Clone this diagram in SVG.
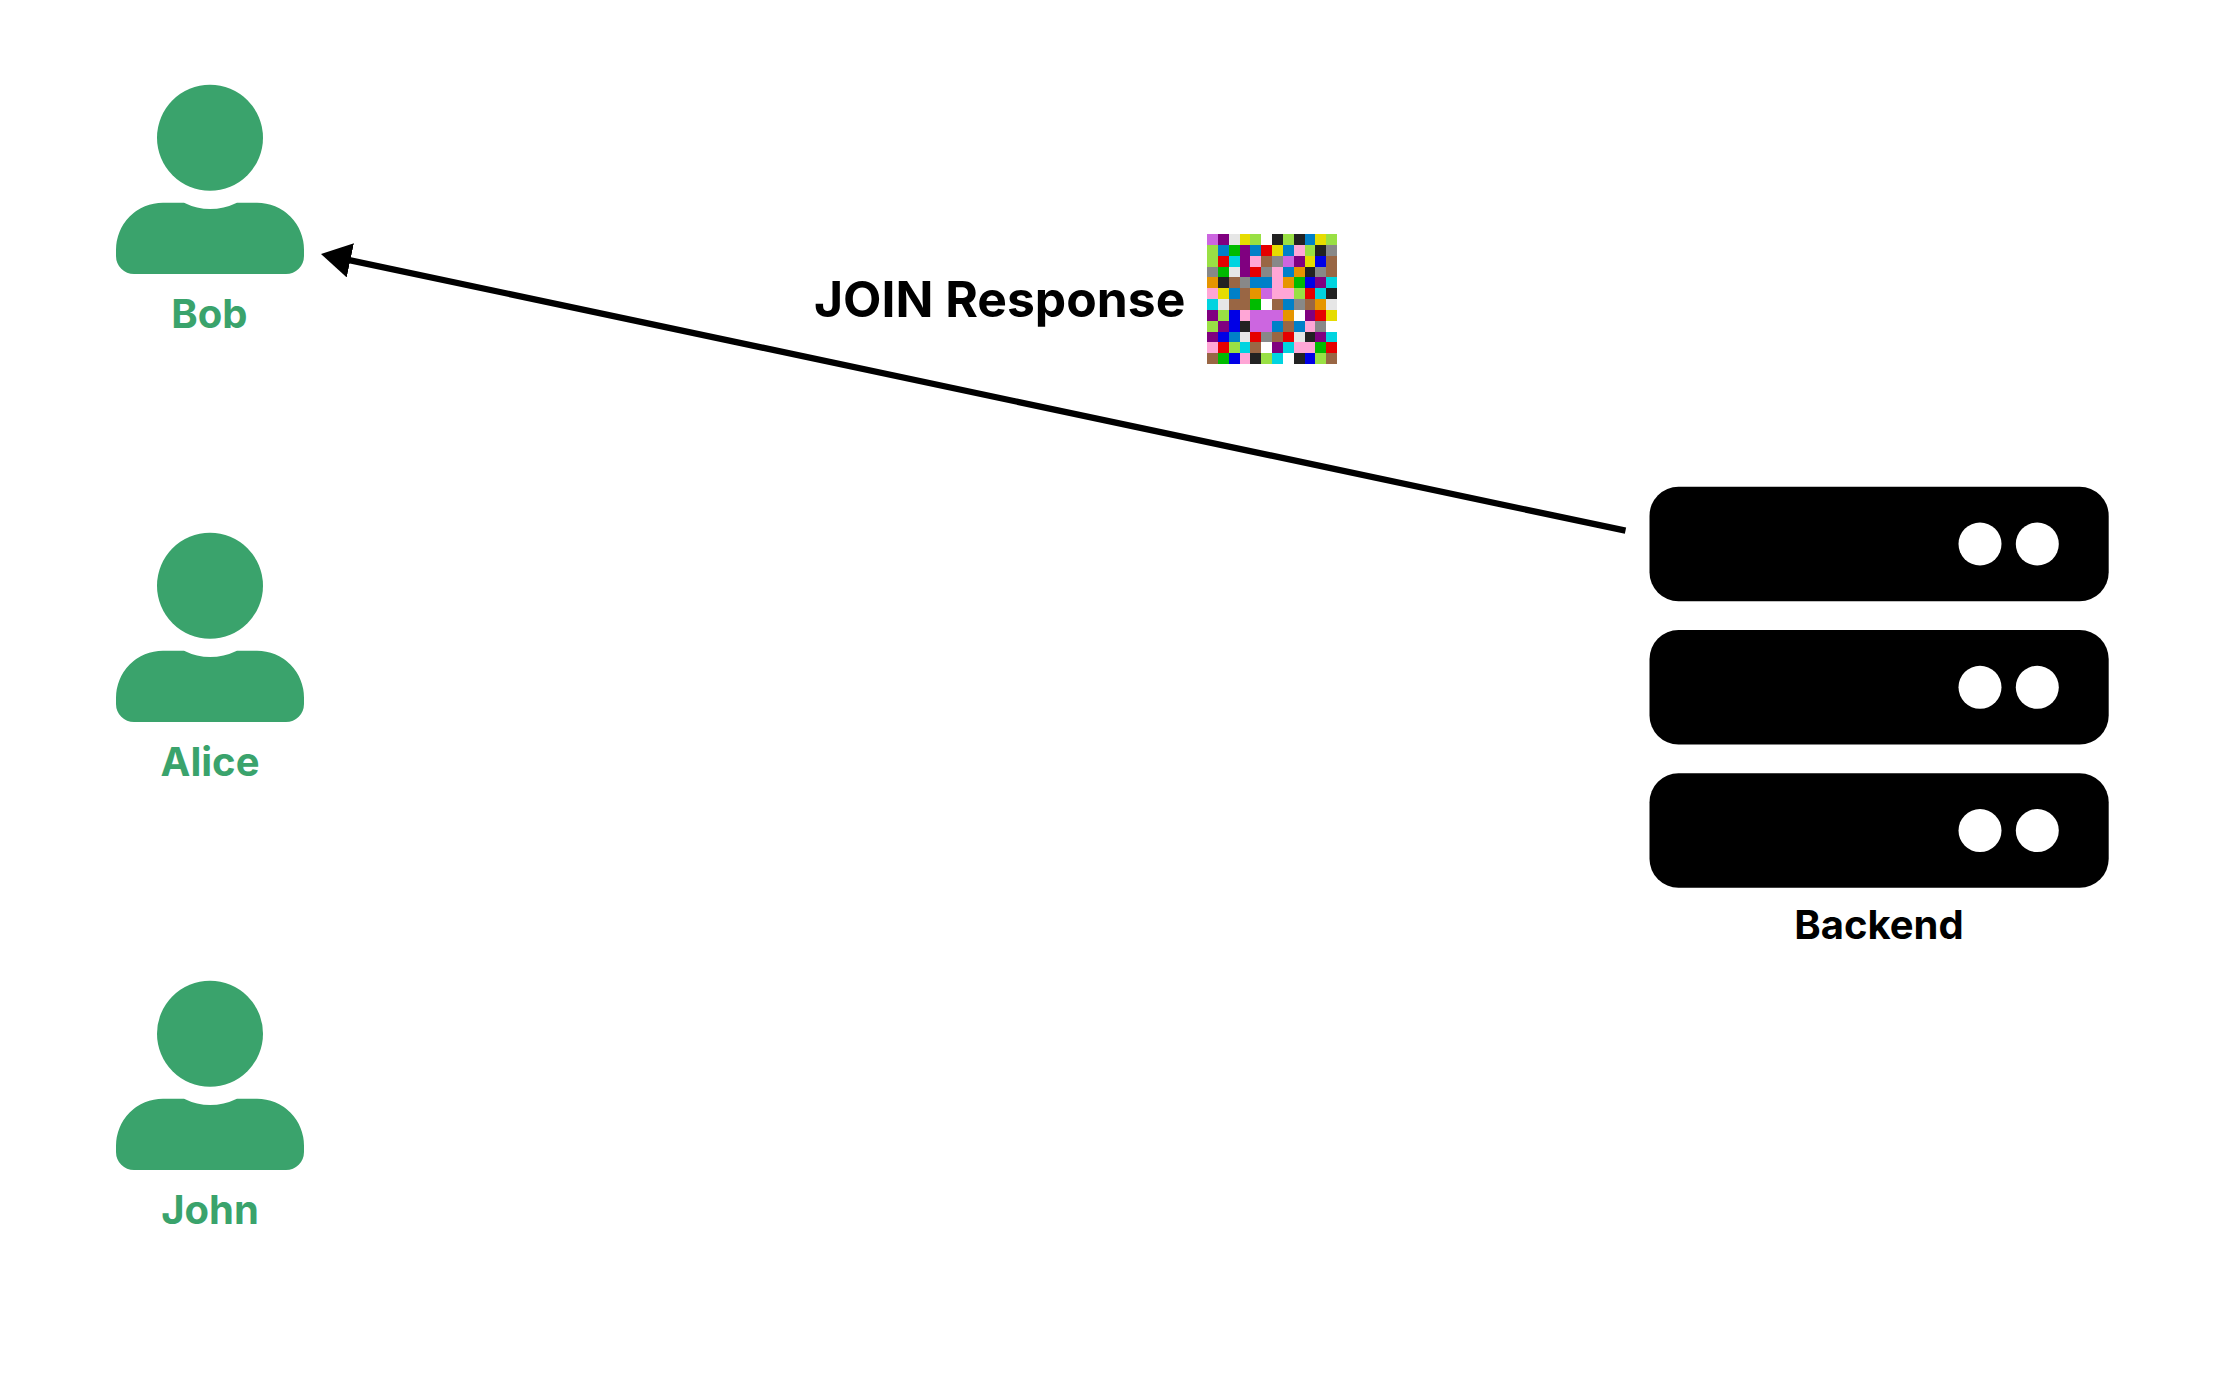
<svg xmlns="http://www.w3.org/2000/svg" width="2237" height="1373" viewBox="0 0 2237 1373">
<style>
text{font-family:Inter,"Liberation Sans",sans-serif;font-weight:700}
.u{fill:#3aa36c;font-size:40px;text-anchor:middle}
.b{fill:#000}
.w{fill:#fff}
.P{fill:#cc66e0}.V{fill:#800080}.L{fill:#e6e6e6}.Y{fill:#e6dc00}.G{fill:#99e044}.W{fill:#fff}.K{fill:#222}.B{fill:#0080c8}.R{fill:#e60000}.g{fill:#00bb00}.A{fill:#888}.N{fill:#0000e6}.C{fill:#00d4e0}.Q{fill:#ffa6d6}.T{fill:#996644}.O{fill:#e69500}
</style>
<defs>
<g id="person"><circle cx="210" cy="137.7" r="53"/><path d="M116 256V250A47 47 0 0 1 163 202.7H184Q210 215.5 237 202.7H257A47 47 0 0 1 304 250V256A18 18 0 0 1 286 274H134A18 18 0 0 1 116 256Z"/></g>
<g id="rack"><rect x="1649.5" y="486.7" width="459.2" height="114.5" rx="29" class="b"/><circle cx="1980" cy="544" r="21.5" class="w"/><circle cx="2037.3" cy="544" r="21.5" class="w"/></g>
<marker id="arrow" markerUnits="userSpaceOnUse" markerWidth="40" markerHeight="40" refX="12" refY="17.5" orient="auto"><path d="M0 0L30 17.5L0 35Z"/></marker>
</defs>
<g id="connectors"><line x1="1625.5" y1="530.7" x2="338.6" y2="257.8" stroke="#000" stroke-width="6.3" marker-end="url(#arrow)"/></g>
<g id="bob" fill="#3aa36c"><use href="#person"/><text class="u" x="209.4" y="328">Bob</text></g>
<g id="alice" fill="#3aa36c"><use href="#person" y="448"/><text class="u" x="210" y="776">Alice</text></g>
<g id="john" fill="#3aa36c"><use href="#person" y="896"/><text class="u" x="210" y="1224">John</text></g>
<g id="backend"><use href="#rack"/><use href="#rack" y="143.3"/><use href="#rack" y="286.6"/><text x="1879" y="939" font-size="40" text-anchor="middle">Backend</text></g>
<text id="label" x="814" y="317" font-size="49.8">JOIN Response</text>
<g id="token" transform="translate(1207 234) scale(10.84)" shape-rendering="crispEdges">
<rect x="0" y="0" width="1" height="1" class="P"/><rect x="1" y="0" width="1" height="1" class="V"/><rect x="2" y="0" width="1" height="1" class="L"/><rect x="3" y="0" width="1" height="1" class="Y"/><rect x="4" y="0" width="1" height="1" class="G"/><rect x="5" y="0" width="1" height="1" class="W"/><rect x="6" y="0" width="1" height="1" class="K"/><rect x="7" y="0" width="1" height="1" class="G"/><rect x="8" y="0" width="1" height="1" class="K"/><rect x="9" y="0" width="1" height="1" class="B"/><rect x="10" y="0" width="1" height="1" class="Y"/><rect x="11" y="0" width="1" height="1" class="G"/>
<rect x="0" y="1" width="1" height="1" class="G"/><rect x="1" y="1" width="1" height="1" class="B"/><rect x="2" y="1" width="1" height="1" class="g"/><rect x="3" y="1" width="1" height="1" class="V"/><rect x="4" y="1" width="1" height="1" class="B"/><rect x="5" y="1" width="1" height="1" class="R"/><rect x="6" y="1" width="1" height="1" class="Y"/><rect x="7" y="1" width="1" height="1" class="B"/><rect x="8" y="1" width="1" height="1" class="Q"/><rect x="9" y="1" width="1" height="1" class="G"/><rect x="10" y="1" width="1" height="1" class="K"/><rect x="11" y="1" width="1" height="1" class="A"/>
<rect x="0" y="2" width="1" height="1" class="G"/><rect x="1" y="2" width="1" height="1" class="R"/><rect x="2" y="2" width="1" height="1" class="C"/><rect x="3" y="2" width="1" height="1" class="V"/><rect x="4" y="2" width="1" height="1" class="Q"/><rect x="5" y="2" width="1" height="1" class="T"/><rect x="6" y="2" width="1" height="1" class="A"/><rect x="7" y="2" width="1" height="1" class="P"/><rect x="8" y="2" width="1" height="1" class="V"/><rect x="9" y="2" width="1" height="1" class="Y"/><rect x="10" y="2" width="1" height="1" class="N"/><rect x="11" y="2" width="1" height="1" class="T"/>
<rect x="0" y="3" width="1" height="1" class="A"/><rect x="1" y="3" width="1" height="1" class="g"/><rect x="2" y="3" width="1" height="1" class="L"/><rect x="3" y="3" width="1" height="1" class="V"/><rect x="4" y="3" width="1" height="1" class="R"/><rect x="5" y="3" width="1" height="1" class="A"/><rect x="6" y="3" width="1" height="1" class="Q"/><rect x="7" y="3" width="1" height="1" class="B"/><rect x="8" y="3" width="1" height="1" class="O"/><rect x="9" y="3" width="1" height="1" class="K"/><rect x="10" y="3" width="1" height="1" class="A"/><rect x="11" y="3" width="1" height="1" class="T"/>
<rect x="0" y="4" width="1" height="1" class="O"/><rect x="1" y="4" width="1" height="1" class="K"/><rect x="2" y="4" width="1" height="1" class="T"/><rect x="3" y="4" width="1" height="1" class="A"/><rect x="4" y="4" width="1" height="1" class="B"/><rect x="5" y="4" width="1" height="1" class="B"/><rect x="6" y="4" width="1" height="1" class="Q"/><rect x="7" y="4" width="1" height="1" class="O"/><rect x="8" y="4" width="1" height="1" class="g"/><rect x="9" y="4" width="1" height="1" class="N"/><rect x="10" y="4" width="1" height="1" class="V"/><rect x="11" y="4" width="1" height="1" class="C"/>
<rect x="0" y="5" width="1" height="1" class="Q"/><rect x="1" y="5" width="1" height="1" class="Y"/><rect x="2" y="5" width="1" height="1" class="B"/><rect x="3" y="5" width="1" height="1" class="T"/><rect x="4" y="5" width="1" height="1" class="O"/><rect x="5" y="5" width="1" height="1" class="P"/><rect x="6" y="5" width="1" height="1" class="Q"/><rect x="7" y="5" width="1" height="1" class="Q"/><rect x="8" y="5" width="1" height="1" class="G"/><rect x="9" y="5" width="1" height="1" class="R"/><rect x="10" y="5" width="1" height="1" class="C"/><rect x="11" y="5" width="1" height="1" class="K"/>
<rect x="0" y="6" width="1" height="1" class="C"/><rect x="1" y="6" width="1" height="1" class="L"/><rect x="2" y="6" width="1" height="1" class="T"/><rect x="3" y="6" width="1" height="1" class="T"/><rect x="4" y="6" width="1" height="1" class="g"/><rect x="5" y="6" width="1" height="1" class="W"/><rect x="6" y="6" width="1" height="1" class="T"/><rect x="7" y="6" width="1" height="1" class="B"/><rect x="8" y="6" width="1" height="1" class="A"/><rect x="9" y="6" width="1" height="1" class="T"/><rect x="10" y="6" width="1" height="1" class="O"/><rect x="11" y="6" width="1" height="1" class="L"/>
<rect x="0" y="7" width="1" height="1" class="V"/><rect x="1" y="7" width="1" height="1" class="G"/><rect x="2" y="7" width="1" height="1" class="N"/><rect x="3" y="7" width="1" height="1" class="Q"/><rect x="4" y="7" width="1" height="1" class="P"/><rect x="5" y="7" width="1" height="1" class="P"/><rect x="6" y="7" width="1" height="1" class="P"/><rect x="7" y="7" width="1" height="1" class="O"/><rect x="8" y="7" width="1" height="1" class="W"/><rect x="9" y="7" width="1" height="1" class="V"/><rect x="10" y="7" width="1" height="1" class="R"/><rect x="11" y="7" width="1" height="1" class="Y"/>
<rect x="0" y="8" width="1" height="1" class="G"/><rect x="1" y="8" width="1" height="1" class="V"/><rect x="2" y="8" width="1" height="1" class="N"/><rect x="3" y="8" width="1" height="1" class="K"/><rect x="4" y="8" width="1" height="1" class="P"/><rect x="5" y="8" width="1" height="1" class="P"/><rect x="6" y="8" width="1" height="1" class="B"/><rect x="7" y="8" width="1" height="1" class="T"/><rect x="8" y="8" width="1" height="1" class="B"/><rect x="9" y="8" width="1" height="1" class="Q"/><rect x="10" y="8" width="1" height="1" class="A"/><rect x="11" y="8" width="1" height="1" class="W"/>
<rect x="0" y="9" width="1" height="1" class="V"/><rect x="1" y="9" width="1" height="1" class="N"/><rect x="2" y="9" width="1" height="1" class="B"/><rect x="3" y="9" width="1" height="1" class="L"/><rect x="4" y="9" width="1" height="1" class="R"/><rect x="5" y="9" width="1" height="1" class="A"/><rect x="6" y="9" width="1" height="1" class="T"/><rect x="7" y="9" width="1" height="1" class="R"/><rect x="8" y="9" width="1" height="1" class="L"/><rect x="9" y="9" width="1" height="1" class="K"/><rect x="10" y="9" width="1" height="1" class="V"/><rect x="11" y="9" width="1" height="1" class="C"/>
<rect x="0" y="10" width="1" height="1" class="Q"/><rect x="1" y="10" width="1" height="1" class="R"/><rect x="2" y="10" width="1" height="1" class="G"/><rect x="3" y="10" width="1" height="1" class="C"/><rect x="4" y="10" width="1" height="1" class="T"/><rect x="5" y="10" width="1" height="1" class="W"/><rect x="6" y="10" width="1" height="1" class="V"/><rect x="7" y="10" width="1" height="1" class="C"/><rect x="8" y="10" width="1" height="1" class="Q"/><rect x="9" y="10" width="1" height="1" class="Q"/><rect x="10" y="10" width="1" height="1" class="g"/><rect x="11" y="10" width="1" height="1" class="R"/>
<rect x="0" y="11" width="1" height="1" class="T"/><rect x="1" y="11" width="1" height="1" class="g"/><rect x="2" y="11" width="1" height="1" class="N"/><rect x="3" y="11" width="1" height="1" class="Q"/><rect x="4" y="11" width="1" height="1" class="K"/><rect x="5" y="11" width="1" height="1" class="G"/><rect x="6" y="11" width="1" height="1" class="C"/><rect x="7" y="11" width="1" height="1" class="W"/><rect x="8" y="11" width="1" height="1" class="K"/><rect x="9" y="11" width="1" height="1" class="N"/><rect x="10" y="11" width="1" height="1" class="G"/><rect x="11" y="11" width="1" height="1" class="T"/>
</g>
</svg>
